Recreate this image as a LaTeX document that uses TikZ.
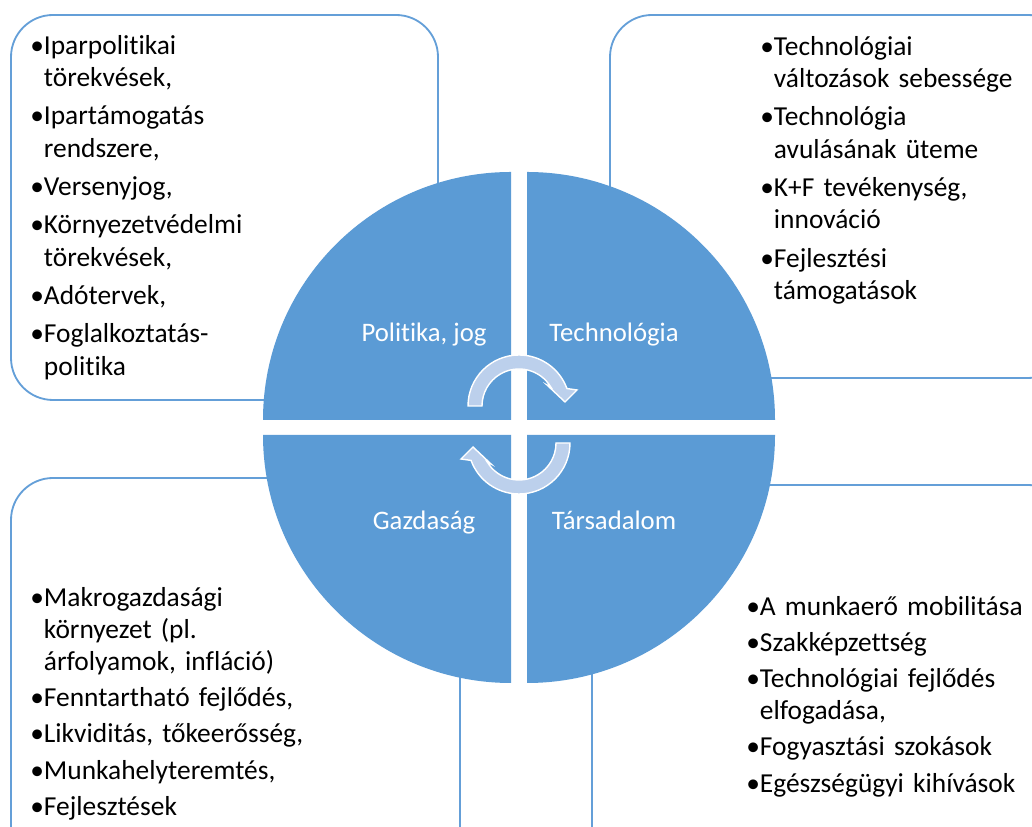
\documentclass[tikz,border=0pt]{standalone}
\usepackage{fontspec}
\setmainfont{Carlito}[Ligatures=NoCommon]
\usepackage{tikz}
\usetikzlibrary{positioning}
\definecolor{quadblue}{HTML}{5B9BD5}
\definecolor{boxline}{HTML}{649FD8}
\definecolor{arrowfill}{HTML}{BCD0EC}
\tikzset{
    infobox/.style={draw=boxline, line width=1.3pt, fill=white, rounded corners=1.05cm},
    quadrant/.style={fill=quadblue},
    cyclearrow/.style={fill=arrowfill, draw=white, line width=1pt},
    quadlabel/.style={text=white, inner sep=0pt, text height=1.5ex, text depth=.4ex, font=\fontsize{19}{23}\selectfont},
    itemlist/.style={anchor=north west, inner sep=0pt, text width=12cm, align=left, font=\fontsize{19.5}{22.9}\selectfont},
}
\newcommand\itm[1]{\setbox0\hbox{•}\hangindent=\wd0 \hangafter=1 \noindent\box0 #1\par}
\newcommand\itemgap[1]{\setlength\parskip{#1}}
\begin{document}
\begin{tikzpicture}[x=0.025cm,y=0.025cm]
    \useasboundingbox (0,0) rectangle (1032,827);
    \clip (0,0) rectangle (1032,827);
    % boxes
    \draw[infobox] (11,427) rectangle (438,812);
    \draw[infobox] (610,449) rectangle (1070,812);
    \draw[infobox] (11,-50) rectangle (460,349);
    \draw[infobox] (592,-50) rectangle (1070,342);
    % circle
    \fill[quadrant] (511,407) -- ++(-248,0) arc[start angle=180,end angle=90,radius=248] -- cycle;
    \fill[quadrant] (527,407) -- ++(0,248) arc[start angle=90,end angle=0,radius=248] -- cycle;
    \fill[quadrant] (527,392) -- ++(248,0) arc[start angle=0,end angle=-90,radius=248] -- cycle;
    \fill[quadrant] (511,392) -- ++(0,-248) arc[start angle=-90,end angle=-180,radius=248] -- cycle;
    \node[quadlabel] (politika) at (424,489) {Politika, jog};
    \node[quadlabel, on grid, right=4.75cm of politika] (technologia) {Technológia};
    \node[quadlabel, on grid, below=4.7cm of politika] (gazdasag) {Gazdaság};
    \node[quadlabel, on grid, right=4.75cm of gazdasag] (tarsadalom) {Társadalom};
    \foreach \cy/\rot in {421/0,384/180} {
        \begin{scope}[shift={(519,\cy)},rotate=\rot]
            \draw[cyclearrow] (180:51) arc[start angle=180,end angle=20,radius=51]
                -- (58,16) -- (46,4) -- (28,21) -- (31:37)
                arc[start angle=31,end angle=180,radius=37] -- cycle;
        \end{scope}
    }
    % lists
    \node[itemlist] (politems) at (30,792) {\itemgap{4.4pt}%
        \itm{Iparpolitikai\newline törekvések,}
        \itm{Ipartámogatás\newline rendszere,}
        \itm{Versenyjog,}
        \itm{Környezetvédelmi\newline törekvések,}
        \itm{Adótervek,}
        \itm{Foglalkoztatás-\newline politika}};
    \node[itemlist] (techitems) at (760,791) {\itemgap{4.4pt}%
        \itm{Technológiai\newline változások sebessége}
        \itm{Technológia\newline avulásának üteme}
        \itm{K+F tevékenység,\newline innováció}
        \itm{Fejlesztési\newline támogatások}};
    \node[itemlist] (gazditems) at (30,240) {\itemgap{2.8pt}%
        \itm{Makrogazdasági\newline környezet (pl.\newline árfolyamok, infláció)}
        \itm{Fenntartható fejlődés,}
        \itm{Likviditás, tőkeerősség,}
        \itm{Munkahelyteremtés,}
        \itm{Fejlesztések}};
    \node[itemlist] (tarsitems) at (746,231) {\itemgap{2.8pt}%
        \itm{A munkaerő mobilitása}
        \itm{Szakképzettség}
        \itm{Technológiai fejlődés\newline elfogadása,}
        \itm{Fogyasztási szokások}
        \itm{Egészségügyi kihívások}};
\end{tikzpicture}
\end{document}
